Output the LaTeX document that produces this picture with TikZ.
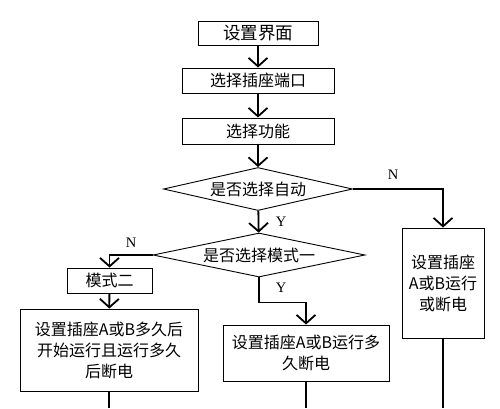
\documentclass[tikz,border=0pt]{standalone}
\usepackage{fontspec}
\setmainfont{Noto Sans CJK SC}
\newfontfamily\latfont{Liberation Serif}
\usetikzlibrary{shapes.geometric,arrows.meta}

\begin{document}
\begin{tikzpicture}[x=1pt, y=-1pt,
	box/.style={draw, line width=0.9pt, inner sep=0pt, align=center, font=\fontsize{16}{21}\selectfont},
	decision/.style={draw, diamond, line width=0.9pt, inner sep=0pt, font=\fontsize{16}{21}\selectfont},
	flow/.style={line width=1.8pt, -{Straight Barb[length=8.5pt,width=19pt]}},
	link/.style={line width=1.8pt},
	yn/.style={font=\latfont\fontsize{14.5}{14.5}\selectfont}]
	\useasboundingbox (0,0) rectangle (500,408);
	%boxes
	\node[box, minimum width=120pt, minimum height=24pt, font=\fontsize{17.5}{21}\selectfont] (setup) at (258,33) {设置界面};
	\node[box, minimum width=152pt, minimum height=25pt] (port) at (258,80.5) {选择插座端口};
	\node[box, minimum width=152pt, minimum height=26pt] (func) at (258,131) {选择功能};
	\node[decision, shape aspect=4.4, minimum width=189pt, minimum height=43pt] (auto) at (258,189) {是否选择自动};
	\node[decision, shape aspect=4.8, minimum width=212pt, minimum height=44pt] (modeone) at (259,255) {是否选择模式一};
	\node[box, minimum width=85pt, minimum height=25pt] (modetwo) at (109.5,280.5) {模式二};
	\node[box, minimum width=178pt, minimum height=82pt] (delayrun) at (109,350) {设置插座A或B多久后\\开始运行且运行多久\\后断电};
	\node[box, minimum width=166pt, minimum height=56pt] (timedoff) at (306,353) {设置插座A或B运行多\\久断电};
	\node[box, minimum width=82pt, minimum height=110pt] (manual) at (443,283) {设置插座\\A或B运行\\或断电};
	%ends
	\coordinate (delayend) at (109,408);
	\coordinate (timedend) at (306,408);
	\coordinate (manualend) at (443,408);
	%connectors
	\draw[flow] (setup) -- (port);
	\draw[flow] (port) -- (func);
	\draw[flow] (func) -- (auto);
	\draw[flow] (auto) -- (modeone);
	\draw[flow] (auto.east) -| (manual.north);
	\draw[flow] (modeone.west) -| (modetwo.north);
	\draw[flow] (modeone.south) -- ++(0,25) -| (timedoff.north);
	\draw[flow] (modetwo) -- (delayrun);
	\draw[link] (delayrun) -- (delayend);
	\draw[link] (timedoff) -- (timedend);
	\draw[link] (manual) -- (manualend);
	%labels
	\node[yn] at (393,175) {N};
	\node[yn] at (281,222) {Y};
	\node[yn] at (131,243) {N};
	\node[yn] at (281,288) {Y};
\end{tikzpicture}
\end{document}
